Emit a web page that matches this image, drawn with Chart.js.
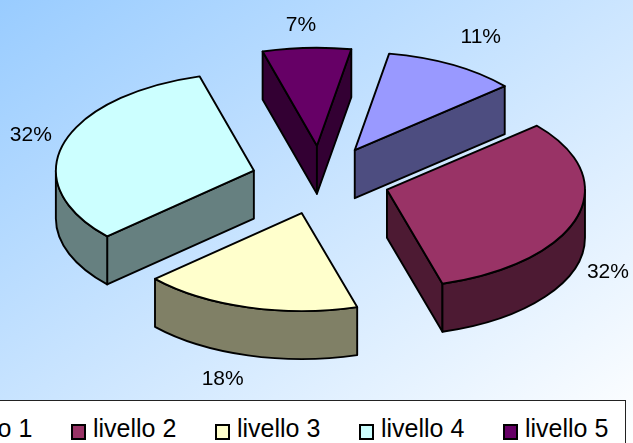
<!DOCTYPE html>
<html>
<head>
<meta charset="utf-8">
<script src="https://cdn.jsdelivr.net/npm/chart.js@4"></script>
<style>
  html, body { margin: 0; padding: 0; }
  #page {
    position: relative;
    width: 633px;
    height: 443px;
    overflow: hidden;
    background: linear-gradient(to bottom right, #99ccff, #ffffff);
    font-family: "Liberation Sans", Arial, sans-serif;
  }
  #pieChart { position: absolute; left: 0; top: -41px; }
  #legend {
    position: absolute;
    left: -82px;
    top: 400px;
    width: 698px;
    height: 60px;
    box-sizing: content-box;
    border: 1px solid #222;
    background: #fff;
    display: flex;
    padding-left: 8px;
  }
  .item { width: 144px; flex: none; display: flex; align-items: flex-start; font-size: 25px; line-height: 28px; padding-top: 13px; color: #000; white-space: nowrap; }
  .swatch { width: 11px; height: 12px; border: 2px solid #000; margin-top: 10px; margin-right: 7px; flex: none; }
</style>
</head>
<body>
<div id="page">
  <canvas id="pieChart" width="641" height="442"></canvas>
  <div id="legend"></div>
</div>
<script>
const categories = ["livello 1", "livello 2", "livello 3", "livello 4", "livello 5"];
const percentValues = [10.9, 31.8, 17.8, 32.3, 7.2];

const topColors = ["#9999ff", "#993366", "#ffffcc", "#ccffff", "#660066"];
const sideColors = ["#4d4d80", "#4d1a33", "#808066", "#668080", "#330033"];

const tilt = 0.495;
const depth = 48;
const explode = 0.35;
// label position relative to each slice's tip
const labelShift = [
  [126, -113],
  [221, 82],
  [-79, 166],
  [-223, -35],
  [-16, -121],
];

function ellipsePoint(c, rx, ry, angle) {
  return { x: c.x + rx * Math.cos(angle), y: c.y + ry * Math.sin(angle) };
}

function radialWall(ctx, c, rx, ry, angle, color) {
  const p = ellipsePoint(c, rx, ry, angle);
  ctx.beginPath();
  ctx.moveTo(c.x, c.y);
  ctx.lineTo(p.x, p.y);
  ctx.lineTo(p.x, p.y + depth);
  ctx.lineTo(c.x, c.y + depth);
  ctx.closePath();
  ctx.fillStyle = color;
  ctx.fill();
  ctx.stroke();
}

function outerWall(ctx, c, rx, ry, start, end, color) {
  // only the part of the rim facing the viewer (angle 0..PI, also +2PI)
  [0, 2 * Math.PI].forEach((turn) => {
    const a1 = Math.max(start, turn);
    const a2 = Math.min(end, turn + Math.PI);
    if (a2 <= a1) return;
    ctx.beginPath();
    ctx.ellipse(c.x, c.y, rx, ry, 0, a1, a2);
    ctx.ellipse(c.x, c.y + depth, rx, ry, 0, a2, a1, true);
    ctx.closePath();
    ctx.fillStyle = color;
    ctx.fill();
    ctx.stroke();
  });
}

const pie3d = {
  id: "pie3d",
  beforeDatasetDraw() {
    return false;
  },
  afterDatasetsDraw(chart) {
    const ctx = chart.ctx;
    const arcs = chart.getDatasetMeta(0).data;
    ctx.save();
    ctx.strokeStyle = "#000";
    ctx.lineWidth = 1.9;
    ctx.lineJoin = "round";

    arcs.forEach((arc, i) => {
      const rx = arc.outerRadius;
      const ry = rx * tilt;
      const mid = (arc.startAngle + arc.endAngle) / 2;
      const c = {
        x: arc.x + explode * rx * Math.cos(mid),
        y: arc.y + explode * ry * Math.sin(mid),
      };

      // walls first, top face on top of them
      if (Math.cos(arc.startAngle) < 0) radialWall(ctx, c, rx, ry, arc.startAngle, sideColors[i]);
      if (Math.cos(arc.endAngle) > 0) radialWall(ctx, c, rx, ry, arc.endAngle, sideColors[i]);
      outerWall(ctx, c, rx, ry, arc.startAngle, arc.endAngle, sideColors[i]);

      ctx.beginPath();
      ctx.moveTo(c.x, c.y);
      ctx.ellipse(c.x, c.y, rx, ry, 0, arc.startAngle, arc.endAngle);
      ctx.closePath();
      ctx.fillStyle = topColors[i];
      ctx.fill();
      ctx.stroke();

      ctx.fillStyle = "#000";
      ctx.font = '21px "Liberation Sans", Arial, sans-serif';
      ctx.textAlign = "center";
      ctx.textBaseline = "middle";
      ctx.fillText(Math.round(percentValues[i]) + "%", c.x + labelShift[i][0], c.y + labelShift[i][1]);
    });
    ctx.restore();
  },
};

function buildLegend() {
  const legend = document.getElementById("legend");
  categories.forEach((name, i) => {
    const item = document.createElement("div");
    item.className = "item";
    const swatch = document.createElement("span");
    swatch.className = "swatch";
    swatch.style.background = topColors[i];
    item.appendChild(swatch);
    item.appendChild(document.createTextNode(name));
    legend.appendChild(item);
  });
}

function init() {
  buildLegend();
  new Chart(document.getElementById("pieChart"), {
    type: "pie",
    data: {
      labels: categories,
      datasets: [{ data: percentValues, backgroundColor: topColors, borderWidth: 0 }],
    },
    options: {
      responsive: false,
      animation: false,
      events: [],
      radius: 198,
      rotation: 10,
      layout: { padding: 0 },
      plugins: { legend: { display: false }, tooltip: { enabled: false } },
    },
    plugins: [pie3d],
  });
}

document.addEventListener("DOMContentLoaded", init);
</script>
</body>
</html>
